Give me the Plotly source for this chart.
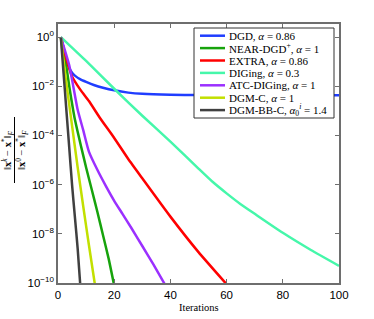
import plotly.graph_objects as go

# ---------------- data ----------------
dgd_k = [1, 2, 3, 4, 5, 6, 8, 10, 13, 16, 20, 25, 30, 40, 50, 60, 80, 100]
dgd_v = [1, 2.8e-1, 1.12e-1, 5.6e-2, 3.5e-2, 2.7e-2, 1.9e-2, 1.5e-2, 1.1e-2,
         8.7e-3, 6.8e-3, 5.5e-3, 4.9e-3, 4.5e-3, 4.4e-3, 4.3e-3, 4.3e-3, 4.3e-3]

near_k = [1, 2, 4, 6, 8, 10, 12, 14, 16, 18, 20]
near_v = [1, 3.5e-1, 1e-2, 4.5e-4, 4.5e-5, 5e-6, 6.3e-7, 7.9e-8, 8.9e-9, 1e-9, 7.9e-11]

extra_k = [1, 3, 5, 8, 11, 15, 20, 25, 30, 40, 50, 60]
extra_v = [1, 1.26e-1, 2.5e-2, 7.1e-3, 2.5e-3, 5e-4, 7.9e-5, 1.1e-5, 1.8e-6, 5e-8, 1.8e-9, 8.9e-11]

diging_k = [1, 10, 20, 30, 40, 50, 55, 60, 65, 70, 80, 90, 100]
diging_v = [1, 1.07e-1, 7.9e-3, 6.3e-4, 5.6e-5, 4.5e-6, 1.3e-6, 4.4e-7, 1.6e-7, 6.5e-8, 1.1e-8, 2.2e-9, 5e-10]

atc_k = [1, 4, 7, 9, 11, 14, 17, 20, 23, 26, 30, 34, 38]
atc_v = [1, 7.1e-2, 1.1e-3, 1.6e-4, 2.2e-5, 4e-6, 8.9e-7, 2.2e-7, 6.3e-8, 1.8e-8, 3.2e-9, 5.6e-10, 8.9e-11]

dgmc_k = [1, 2, 3, 5, 7, 9, 11, 13, 14]
dgmc_v = [1, 1e-1, 1.26e-2, 2.5e-4, 5e-6, 1.26e-7, 3.5e-9, 1.1e-10, 2e-11]

dgmbb_k = [1, 2, 3, 4, 5, 6, 7, 8]
dgmbb_v = [1, 3.2e-2, 1e-3, 3.2e-5, 1e-6, 5e-8, 2.5e-9, 6.3e-11]

series_names = [
    "DGD, <i>α</i> = 0.86",
    "NEAR-DGD<sup>+</sup>, <i>α</i> = 1",
    "EXTRA, <i>α</i> = 0.86",
    "DIGing, <i>α</i> = 0.3",
    "ATC-DIGing, <i>α</i> = 1",
    "DGM-C, <i>α</i> = 1",
    "DGM-BB-C, <i>α</i><sub>0</sub><sup><i>i</i></sup> = 1.4",
]
series_colors = ["#1f3dff", "#17a30c", "#ff0000", "#45f7aa", "#9b30ff", "#c2e000", "#404040"]

x_tick_vals = [0, 20, 40, 60, 80, 100]
y_tick_vals = [1, 1e-2, 1e-4, 1e-6, 1e-8, 1e-10]
y_tick_text = ["10<sup>0</sup>", "10<sup>−2</sup>", "10<sup>−4</sup>",
               "10<sup>−6</sup>", "10<sup>−8</sup>", "10<sup>−10</sup>"]

# ---------------- layout geometry ----------------
W, H = 374, 319
L, R, T, B = 58, 339, 24, 283   # plot area in pixels


def px_x(px):
    return (px - L) / (R - L)


def px_y(py):
    return (B - py) / (B - T)


serif = "Liberation Serif, DejaVu Serif, serif"
sans = "Liberation Sans, Arial, sans-serif"

fig = go.Figure()
all_k = [dgd_k, near_k, extra_k, diging_k, atc_k, dgmc_k, dgmbb_k]
all_v = [dgd_v, near_v, extra_v, diging_v, atc_v, dgmc_v, dgmbb_v]
for k, v, name, col in zip(all_k, all_v, series_names, series_colors):
    fig.add_trace(go.Scatter(x=k, y=v, mode="lines", name=name,
                             line=dict(color=col, width=2.5, shape="spline", smoothing=0.5),
                             showlegend=False))

axis_common = dict(showline=True, linecolor="#6e6e6e", linewidth=1.5, mirror="ticks",
                   ticks="inside", ticklen=4, tickcolor="#6e6e6e", tickwidth=1,
                   showgrid=False, zeroline=False, automargin=False,
                   tickfont=dict(family=sans, size=11.5, color="black"))

fig.update_layout(
    width=W, height=H,
    margin=dict(l=L, r=W - R, t=T, b=H - B),
    paper_bgcolor="white", plot_bgcolor="white",
    xaxis=dict(range=[0, 100], tickmode="array", tickvals=x_tick_vals, **axis_common),
    yaxis=dict(type="log", range=[-10, 0.53], tickmode="array", tickvals=y_tick_vals,
               ticktext=y_tick_text, **axis_common),
)

# x-axis title placed under the tick labels
fig.add_annotation(xref="paper", yref="paper", x=0.5, y=px_y(307), text="Iterations",
                   showarrow=False, xanchor="center", yanchor="middle",
                   font=dict(family=serif, size=10.5, color="black"))

# ---------------- y-axis label as a fraction ----------------
num = "‖<b>x</b><sup><i>k</i></sup> − <b>x</b><sup>*</sup>‖<sub><i>F</i></sub>"
den = "‖<b>x</b><sup>0</sup> − <b>x</b><sup>*</sup>‖<sub><i>F</i></sub>"
yc = px_y(150)
fig.add_annotation(xref="paper", yref="paper", x=px_x(8), y=yc, text=num, showarrow=False,
                   textangle=-90, xanchor="center", yanchor="middle",
                   font=dict(family=serif, size=10.5, color="black"))
fig.add_annotation(xref="paper", yref="paper", x=px_x(22), y=yc, text=den, showarrow=False,
                   textangle=-90, xanchor="center", yanchor="middle",
                   font=dict(family=serif, size=10.5, color="black"))
fig.add_shape(type="line", xref="paper", yref="paper", x0=px_x(14.5), x1=px_x(14.5),
              y0=px_y(117), y1=px_y(183), line=dict(color="black", width=1))

# ---------------- legend box ----------------
lx0, lx1, ly0, ly1 = 194, 334, 28, 118
fig.add_shape(type="rect", xref="paper", yref="paper", x0=px_x(lx0), x1=px_x(lx1),
              y0=px_y(ly1), y1=px_y(ly0), line=dict(color="#333333", width=1),
              fillcolor="white", layer="above")
for i, (name, col) in enumerate(zip(series_names, series_colors)):
    yy = 35.7 + i * 12.4
    fig.add_shape(type="line", xref="paper", yref="paper", x0=px_x(200), x1=px_x(225),
                  y0=px_y(yy), y1=px_y(yy), line=dict(color=col, width=2.5), layer="above")
    fig.add_annotation(xref="paper", yref="paper", x=px_x(227), y=px_y(yy), text=name,
                       showarrow=False, xanchor="left", yanchor="middle",
                       font=dict(family=serif, size=11, color="black"))

fig.write_html("out.html", config={"displayModeBar": False},
               post_script="document.body.style.margin='0';document.body.style.overflow='hidden';")
